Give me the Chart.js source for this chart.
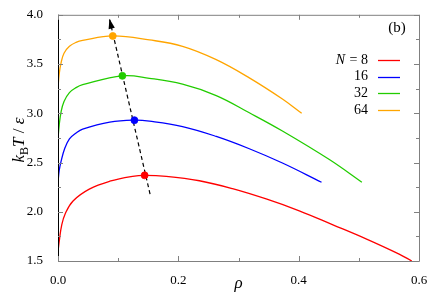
<!DOCTYPE html>
<html>
<head>
<meta charset="utf-8">
<script src="https://cdn.jsdelivr.net/npm/chart.js@4.4.0/dist/chart.umd.min.js"></script>
<style>
  body { margin: 0; background: #fff; }
</style>
</head>
<body>
<canvas id="phaseChart" width="436" height="300"></canvas>
<script>
// data (rho, k_B T / eps)
const seriesN = ['8', '16', '32', '64'];
const seriesColors = ['#ff0000', '#0000ff', '#22cc00', '#ffa500'];

const rho8 = [0, 0.0025, 0.006, 0.012, 0.025, 0.052, 0.086, 0.124, 0.144, 0.18, 0.235, 0.29, 0.346, 0.401, 0.456, 0.512, 0.567, 0.588];
const temp8 = [1.60, 1.72, 1.86, 1.98, 2.11, 2.23, 2.31, 2.36, 2.37, 2.36, 2.315, 2.235, 2.13, 2.01, 1.87, 1.725, 1.57, 1.50];

const rho16 = [0, 0.002, 0.005, 0.011, 0.019, 0.03, 0.041, 0.086, 0.127, 0.152, 0.207, 0.263, 0.318, 0.373, 0.438];
const temp16 = [2.30, 2.42, 2.51, 2.64, 2.74, 2.80, 2.84, 2.91, 2.93, 2.92, 2.865, 2.765, 2.64, 2.495, 2.30];

const rho32 = [0, 0.002, 0.005, 0.01, 0.019, 0.03, 0.041, 0.107, 0.152, 0.207, 0.263, 0.318, 0.373, 0.451, 0.505];
const temp32 = [2.74, 2.88, 3.01, 3.12, 3.21, 3.26, 3.29, 3.38, 3.355, 3.295, 3.18, 3.005, 2.82, 2.53, 2.30];

const rho64 = [0, 0.002, 0.005, 0.01, 0.019, 0.03, 0.041, 0.091, 0.152, 0.207, 0.263, 0.318, 0.373, 0.405];
const temp64 = [3.26, 3.40, 3.51, 3.61, 3.68, 3.72, 3.74, 3.785, 3.745, 3.68, 3.545, 3.36, 3.145, 3.00];

// critical points (maxima)
const peakRho = [0.144, 0.127, 0.107, 0.091];
const peakTemp = [2.37, 2.93, 3.38, 3.785];

// dashed arrow through the maxima
const arrowRho = [0.153, 0.0855];
const arrowTemp = [2.18, 3.96];

const xMinor = [0.1, 0.3, 0.5];
const yMinor = [1.75, 2.25, 2.75, 3.25, 3.75];

const curves = [[rho8, temp8], [rho16, temp16], [rho32, temp32], [rho64, temp64]];

function toPoints(xs, ys) {
    return xs.map((x, i) => ({ x: x, y: ys[i] }));
}

const serif = 'Liberation Serif';
Chart.defaults.font.family = serif;
Chart.defaults.color = '#000';

// frame, inward ticks, arrow head, legend and labels
const decorPlugin = {
    id: 'decor',
    afterDraw(chart) {
        const ctx = chart.ctx;
        const a = chart.chartArea;
        const xs = chart.scales.x;
        const ys = chart.scales.y;
        ctx.save();

        // frame
        ctx.lineWidth = 1;
        ctx.strokeStyle = '#808080';
        ctx.beginPath();
        ctx.moveTo(a.left, a.top + 0.5);
        ctx.lineTo(a.right + 0.5, a.top + 0.5);
        ctx.lineTo(a.right + 0.5, a.bottom + 0.5);
        ctx.lineTo(a.left, a.bottom + 0.5);
        ctx.stroke();
        ctx.strokeStyle = '#000';
        ctx.beginPath();
        ctx.moveTo(a.left + 0.5, a.top);
        ctx.lineTo(a.left + 0.5, a.bottom + 1);
        ctx.stroke();

        // ticks
        ctx.strokeStyle = '#808080';
        ctx.beginPath();
        const xTick = (v, len) => {
            const p = Math.round(xs.getPixelForValue(v)) + 0.5;
            ctx.moveTo(p, a.bottom); ctx.lineTo(p, a.bottom - len);
            ctx.moveTo(p, a.top); ctx.lineTo(p, a.top + len);
        };
        const yTick = (v, len) => {
            const p = Math.round(ys.getPixelForValue(v)) + 0.5;
            ctx.moveTo(a.left, p); ctx.lineTo(a.left + len, p);
            ctx.moveTo(a.right, p); ctx.lineTo(a.right - len, p);
        };
        xs.ticks.forEach(t => xTick(t.value, 5));
        xMinor.forEach(v => xTick(v, 3));
        ys.ticks.forEach(t => yTick(t.value, 5));
        yMinor.forEach(v => yTick(v, 3));
        ctx.stroke();

        // arrow head
        const x0 = xs.getPixelForValue(arrowRho[0]), y0 = ys.getPixelForValue(arrowTemp[0]);
        const x1 = xs.getPixelForValue(arrowRho[1]), y1 = ys.getPixelForValue(arrowTemp[1]);
        const ang = Math.atan2(y1 - y0, x1 - x0);
        const hl = 10, hw = 3.2;
        ctx.fillStyle = '#000';
        ctx.beginPath();
        ctx.moveTo(x1, y1);
        ctx.lineTo(x1 - hl * Math.cos(ang) + hw * Math.sin(ang), y1 - hl * Math.sin(ang) - hw * Math.cos(ang));
        ctx.lineTo(x1 - hl * Math.cos(ang) - hw * Math.sin(ang), y1 - hl * Math.sin(ang) + hw * Math.cos(ang));
        ctx.closePath();
        ctx.fill();

        // legend
        ctx.textBaseline = 'middle';
        seriesN.forEach((n, i) => {
            const y = 60 + i * 16.7;
            ctx.textAlign = 'right';
            ctx.font = '14px ' + serif;
            if (i === 0) {
                const rest = ' = ' + n;
                ctx.fillText(rest, 368, y);
                const w = ctx.measureText(rest).width;
                ctx.font = 'italic 14px ' + serif;
                ctx.fillText('N', 368 - w - 1, y);
            } else {
                ctx.fillText(n, 368, y);
            }
            ctx.strokeStyle = seriesColors[i];
            ctx.lineWidth = 1.3;
            ctx.beginPath();
            ctx.moveTo(378, Math.round(y) + 0.5);
            ctx.lineTo(400, Math.round(y) + 0.5);
            ctx.stroke();
        });

        // panel label
        ctx.textAlign = 'center';
        ctx.font = '15px ' + serif;
        ctx.fillText('(b)', 397, 28);

        // y axis title k_B T / eps
        ctx.translate(24, 140);
        ctx.rotate(-Math.PI / 2);
        ctx.textBaseline = 'alphabetic';
        ctx.textAlign = 'left';
        const parts = [
            { t: 'k', f: 'italic 17px ' + serif, dy: 0 },
            { t: 'B', f: '12px ' + serif, dy: 4 },
            { t: 'T', f: 'italic 17px ' + serif, dy: 0 },
            { t: ' / ', f: '17px ' + serif, dy: 0 },
            { t: 'ε', f: 'italic 17px ' + serif, dy: 0 }
        ];
        let total = 0;
        parts.forEach(p => { ctx.font = p.f; p.w = ctx.measureText(p.t).width; total += p.w; });
        let cx = -total / 2;
        parts.forEach(p => {
            ctx.font = p.f;
            ctx.fillText(p.t, cx, p.dy);
            cx += p.w;
        });
        ctx.restore();
    }
};

const datasets = [];
datasets.push({
    data: toPoints(peakRho, peakTemp),
    showLine: false,
    pointRadius: 3.5,
    pointBorderWidth: 0.8,
    pointBackgroundColor: seriesColors,
    pointBorderColor: seriesColors
});
datasets.push({
    data: toPoints(arrowRho, arrowTemp),
    showLine: true,
    borderColor: '#000',
    borderWidth: 1.2,
    borderDash: [4, 3],
    pointRadius: 0
});
curves.forEach((c, i) => {
    datasets.push({
        data: toPoints(c[0], c[1]),
        showLine: true,
        borderColor: seriesColors[i],
        borderWidth: 1.3,
        pointRadius: 0,
        tension: 0.4
    });
});

new Chart(document.getElementById('phaseChart'), {
    type: 'scatter',
    data: { datasets: datasets },
    options: {
        responsive: false,
        animation: false,
        layout: { padding: { top: 11, right: 17, left: 0, bottom: 0 } },
        plugins: { legend: { display: false }, tooltip: { enabled: false } },
        scales: {
            x: {
                type: 'linear',
                min: 0,
                max: 0.6,
                grid: { display: false },
                border: { display: false },
                ticks: {
                    stepSize: 0.2,
                    padding: 4,
                    font: { size: 13 },
                    maxRotation: 0,
                    callback: v => v.toFixed(1)
                },
                title: {
                    display: true,
                    text: 'ρ',
                    font: { size: 17, style: 'italic' },
                    padding: { top: 0, bottom: 6 }
                },
                afterFit: s => { s.height = 39; }
            },
            y: {
                type: 'linear',
                min: 1.5,
                max: 4.0,
                grid: { display: false },
                border: { display: false },
                ticks: {
                    stepSize: 0.5,
                    padding: 7,
                    font: { size: 13 },
                    callback: v => v.toFixed(1)
                },
                afterFit: s => { s.width = 58; }
            }
        }
    },
    plugins: [decorPlugin]
});
</script>
</body>
</html>
